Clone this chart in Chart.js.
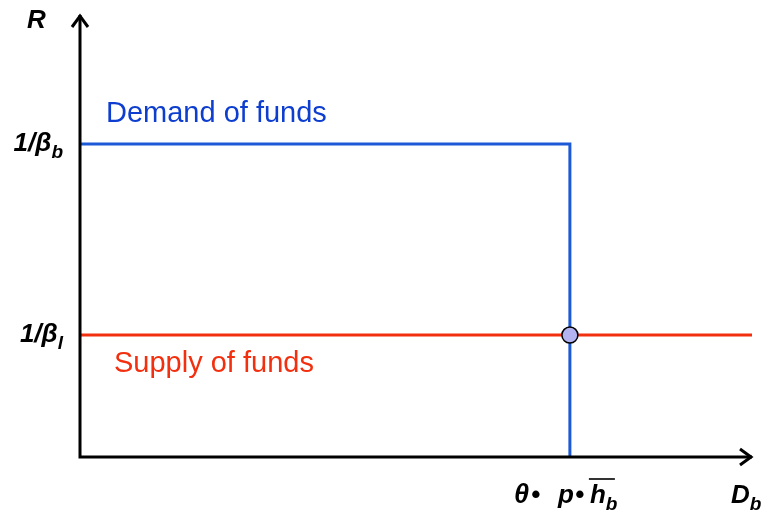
<!DOCTYPE html>
<html>
<head>
<meta charset="UTF-8">
<title>Funds market</title>
<script src="https://cdn.jsdelivr.net/npm/chart.js"></script>
<style>
  body { margin: 0; background: #fff; }
  #wrap { width: 769px; height: 523px; }
</style>
</head>
<body>
<div id="wrap"><canvas id="fundsChart" width="769" height="523"></canvas></div>
<script>
// data (x: borrowing D_b, y: gross rate R), scale 0..10 on both axes
const demandX = [0, 7.29, 7.29];
const demandY = [7.08, 7.08, 0];
const supplyX = [0, 10];
const supplyY = [2.76, 2.76];
const eqX = [7.29];
const eqY = [2.76];
const yTicks = [{ value: 7.08, main: "1/β", sub: "b" }, { value: 2.76, main: "1/β", sub: "l" }];
const xTicks = [{ value: 7.29 }];
const seriesNames = ["Demand of funds", "Supply of funds"];

const BLUE = "#1d58d6";
const BLUE_TEXT = "#0d3ecf";
const RED = "#f2300f";

function toPoints(xs, ys) { return xs.map((x, i) => ({ x: x, y: ys[i] })); }

const mathFont = "bold italic 26px Arial, 'Liberation Sans', sans-serif";
const subFont = "bold italic 19px Arial, 'Liberation Sans', sans-serif";

function drawSub(ctx, x, y, main, sub, align) {
    ctx.font = mathFont;
    const w1 = ctx.measureText(main).width;
    ctx.font = subFont;
    const w2 = ctx.measureText(sub).width;
    let start = align === "right" ? x - w1 - w2 : x;
    ctx.font = mathFont;
    ctx.textAlign = "left";
    ctx.fillText(main, start, y);
    ctx.font = subFont;
    ctx.fillText(sub, start + w1, y + 7);
}

const axesPlugin = {
    id: "axesPlugin",
    afterDraw(chart) {
        const ctx = chart.ctx;
        const xs = chart.scales.x, ys = chart.scales.y;
        const left = xs.getPixelForValue(0), right = xs.getPixelForValue(10);
        const bottom = ys.getPixelForValue(0), top = ys.getPixelForValue(10);
        ctx.save();
        ctx.strokeStyle = "#000";
        ctx.lineWidth = 3;
        ctx.lineCap = "butt";
        ctx.beginPath();
        ctx.moveTo(left, bottom + 1.5);
        ctx.lineTo(left, top);
        ctx.moveTo(left - 1.5, bottom);
        ctx.lineTo(right, bottom);
        ctx.stroke();
        // arrowheads
        ctx.lineJoin = "miter";
        ctx.beginPath();
        ctx.moveTo(left - 8, top + 12);
        ctx.lineTo(left, top + 1);
        ctx.lineTo(left + 8, top + 12);
        ctx.moveTo(right - 12, bottom - 8);
        ctx.lineTo(right - 1, bottom);
        ctx.lineTo(right - 12, bottom + 8);
        ctx.stroke();

        ctx.fillStyle = "#000";
        ctx.textBaseline = "alphabetic";
        ctx.font = mathFont;
        ctx.textAlign = "left";
        ctx.fillText("R", 27, 28);

        yTicks.forEach(t => {
            drawSub(ctx, 63, ys.getPixelForValue(t.value) + 7, t.main, t.sub, "right");
        });

        xTicks.forEach(t => {
            const cx = xs.getPixelForValue(t.value);
            const by = bottom + 46;
            ctx.font = "bold italic 27px Arial, 'Liberation Sans', sans-serif";
            ctx.fillText("θ", cx - 56, by);
            ctx.font = mathFont;
            ctx.fillText("•", cx - 39, by);
            ctx.fillText("p", cx - 12, by);
            ctx.fillText("•", cx + 5, by);
            ctx.fillText("h", cx + 20, by);
            const wh = ctx.measureText("h").width;
            ctx.font = subFont;
            ctx.fillText("b", cx + 20 + wh, by + 7);
            ctx.lineWidth = 2;
            ctx.strokeStyle = "#333";
            ctx.beginPath();
            ctx.moveTo(cx + 19, by - 24);
            ctx.lineTo(cx + 45, by - 24);
            ctx.stroke();
        });

        drawSub(ctx, 731, bottom + 46, "D", "b", "left");

        ctx.font = "29px Arial, 'Liberation Sans', sans-serif";
        ctx.fillStyle = BLUE_TEXT;
        ctx.fillText(seriesNames[0], 106, 122);
        ctx.fillStyle = RED;
        ctx.fillText(seriesNames[1], 114, 372);
        ctx.restore();
    }
};

new Chart(document.getElementById("fundsChart"), {
    type: "scatter",
    data: {
        datasets: [
            {
                label: seriesNames[0],
                data: toPoints(demandX, demandY),
                showLine: true,
                borderColor: BLUE,
                borderWidth: 3,
                pointRadius: 0,
                fill: false,
                order: 2
            },
            {
                label: seriesNames[1],
                data: toPoints(supplyX, supplyY),
                showLine: true,
                borderColor: RED,
                borderWidth: 3,
                pointRadius: 0,
                fill: false,
                order: 3
            },
            {
                label: "Equilibrium",
                data: toPoints(eqX, eqY),
                pointRadius: 8,
                pointBackgroundColor: "#b3b3f2",
                pointBorderColor: "#000",
                pointBorderWidth: 1.5,
                order: 1
            }
        ]
    },
    options: {
        responsive: false,
        animation: false,
        layout: { padding: { left: 80, right: 17, top: 15, bottom: 66 } },
        plugins: { legend: { display: false }, tooltip: { enabled: false } },
        scales: {
            x: { type: "linear", min: 0, max: 10, display: false },
            y: { type: "linear", min: 0, max: 10, display: false }
        }
    },
    plugins: [axesPlugin]
});
</script>
</body>
</html>
